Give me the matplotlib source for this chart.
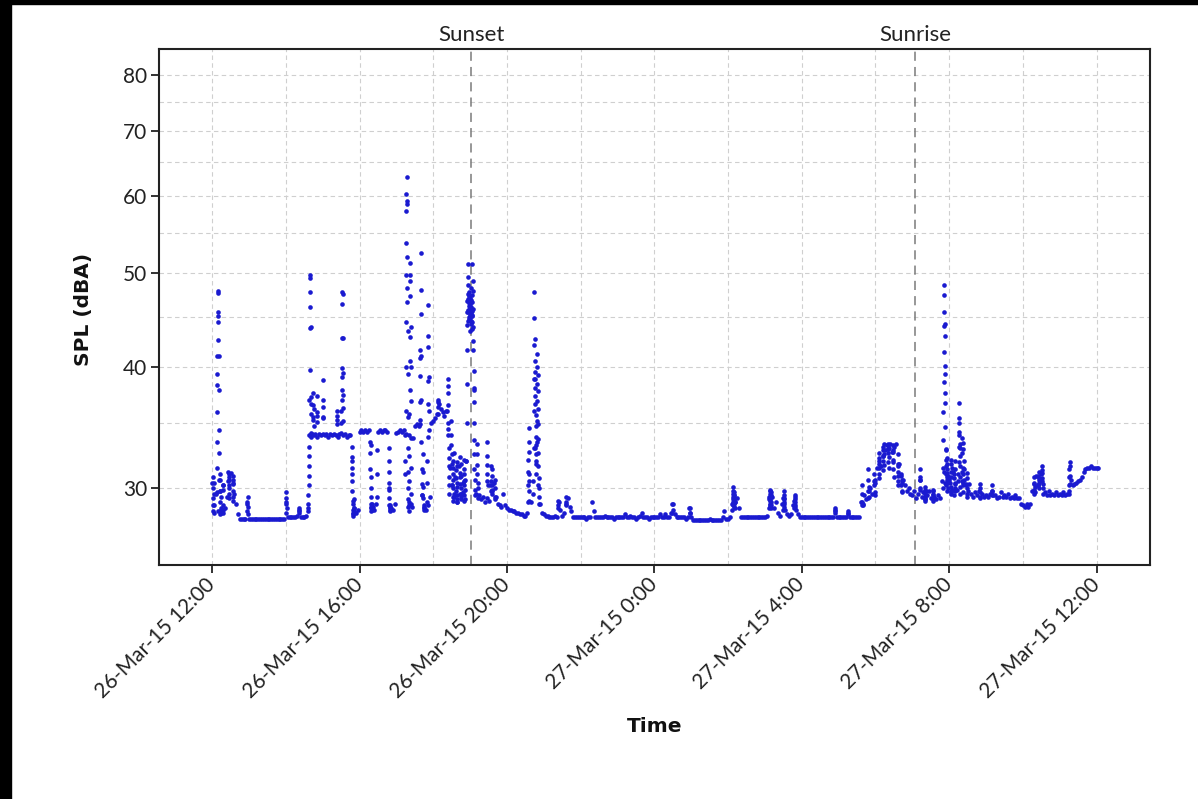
import matplotlib
matplotlib.use("Agg")
import matplotlib.pyplot as plt
import matplotlib.dates as mdates
import pandas as pd
from matplotlib.ticker import FixedLocator, NullFormatter, FuncFormatter
from matplotlib.patches import Rectangle

# ---- SPL readings, 3-minute samples, one list per clock hour (26-27 Mar 2015) ----
spl_12h = [30.4, 28.8, 29.6, 28.4, 29.8, 28.3, 30.2, 28.6, 29.4, 30.6,
           31.1, 30.4, 29.6, 28.9, 28.2, 27.9, 27.9, 27.9, 27.9, 28.9]
spl_13h = [27.9, 27.9, 27.9, 27.9, 27.9, 27.9, 27.9, 27.9, 27.9, 27.9,
           27.9, 27.9, 27.9, 27.9, 27.9, 27.9, 27.9, 27.9, 27.9, 27.9]
spl_14h = [29.0, 28.0, 28.0, 28.0, 28.0, 28.0, 28.1, 28.5, 28.0, 28.0,
           28.0, 28.1, 28.6, 34.0, 34.1, 34.0, 34.1, 33.9, 34.1, 34.0]
spl_15h = [34.1, 34.0, 34.1, 33.9, 34.1, 34.0, 34.1, 34.0, 33.9, 34.1,
           34.2, 34.0, 34.1, 33.9, 34.0, 34.0, 32.0, 28.6, 28.3, 28.5]
spl_16h = [34.3, 34.4, 34.3, 34.4, 34.3, 34.4, 33.2, 28.7, 28.5, 28.9,
           34.3, 34.4, 34.3, 34.4, 34.4, 34.3, 30.0, 28.6, 28.5, 28.9]
spl_17h = [34.2, 34.3, 34.4, 34.3, 34.4, 34.1, 28.7, 28.4, 28.9, 33.8,
           34.8, 34.9, 34.8, 34.9, 29.5, 28.6, 28.5, 28.8, 29.4, 35.0]
spl_18h = [35.2, 35.4, 35.8, 36.6, 36.2, 35.9, 35.6, 36.0, 34.5, 31.5,
           30.2, 29.4, 30.8, 29.0, 31.6, 29.6, 30.4, 29.2, 32.0, 45.5]
spl_19h = [46.0, 45.2, 38.0, 29.6, 29.3, 29.5, 29.2, 29.4, 29.0, 29.3,
           29.1, 30.2, 29.8, 30.4, 29.4, 28.9, 28.8, 28.7, 29.6, 28.8]
spl_20h = [28.6, 28.5, 28.5, 28.4, 28.4, 28.3, 28.3, 28.2, 28.2, 28.1,
           28.1, 28.3, 30.5, 29.0, 29.6, 33.0, 32.0, 30.2, 28.9, 28.3]
spl_21h = [28.2, 28.1, 28.1, 28.0, 28.0, 28.0, 28.1, 28.0, 29.0, 28.5,
           28.1, 28.3, 28.9, 29.3, 28.7, 28.4, 28.0, 28.0, 28.0, 28.0]
spl_22h = [28.0, 28.0, 28.0, 27.9, 28.0, 28.0, 29.0, 28.4, 28.0, 28.0,
           28.0, 28.0, 28.0, 28.1, 28.0, 28.0, 28.0, 28.0, 27.9, 28.0]
spl_23h = [28.0, 28.0, 28.0, 28.0, 28.2, 28.0, 28.0, 28.1, 28.0, 28.0,
           27.9, 28.0, 28.1, 28.3, 28.0, 28.0, 28.0, 27.9, 28.0, 28.0]
spl_00h = [28.0, 28.0, 28.0, 28.2, 28.0, 28.0, 28.2, 28.0, 28.0, 28.3,
           28.9, 28.2, 28.0, 28.0, 28.0, 28.0, 28.0, 27.9, 28.0, 28.6]
spl_01h = [28.0, 27.8, 27.8, 27.8, 27.8, 27.8, 27.8, 27.8, 27.8, 27.8,
           27.9, 27.8, 27.8, 27.8, 27.8, 27.8, 27.8, 28.0, 28.4, 27.9]
spl_02h = [27.9, 28.0, 28.9, 29.5, 29.0, 29.3, 28.6, 28.0, 28.0, 28.0,
           28.0, 28.0, 28.0, 28.0, 28.0, 28.0, 28.0, 28.0, 28.0, 28.0]
spl_03h = [28.0, 28.1, 29.2, 28.8, 29.4, 28.6, 29.0, 28.3, 28.1, 28.9,
           29.3, 28.5, 28.2, 28.1, 28.2, 28.8, 29.1, 28.5, 28.2, 28.0]
spl_04h = [28.0, 28.0, 28.0, 28.0, 28.0, 28.0, 28.0, 28.0, 28.0, 28.0,
           28.0, 28.0, 28.0, 28.0, 28.0, 28.0, 28.0, 28.0, 28.5, 28.0]
spl_05h = [28.0, 28.0, 28.0, 28.0, 28.0, 28.3, 28.0, 28.0, 28.0, 28.0,
           28.0, 28.0, 29.0, 28.8, 29.5, 29.2, 29.8, 30.0, 29.6, 30.5]
spl_06h = [30.4, 31.5, 32.0, 31.6, 32.4, 32.8, 33.2, 32.9, 33.3, 32.7,
           33.1, 33.3, 32.5, 31.8, 31.0, 30.6, 30.2, 29.8, 30.0, 29.6]
spl_07h = [29.5, 29.8, 29.3, 29.6, 30.6, 29.4, 29.7, 29.2, 29.5, 29.8,
           29.3, 29.6, 29.4, 29.2, 29.5, 29.3, 30.5, 31.2, 30.4, 30.8]
spl_08h = [30.6, 29.8, 31.2, 30.4, 29.9, 31.0, 33.0, 30.5, 31.4, 30.2,
           29.8, 30.3, 29.6, 29.4, 29.7, 29.5, 29.8, 29.3, 29.6, 29.4]
spl_09h = [29.5, 29.4, 29.6, 29.8, 29.5, 29.5, 29.3, 29.4, 29.7, 29.4,
           29.5, 29.4, 29.6, 29.3, 29.4, 29.3, 29.5, 29.3, 29.3, 28.9]
spl_10h = [28.8, 28.7, 28.9, 28.7, 28.9, 29.8, 30.4, 30.9, 30.2, 30.7,
           31.0, 30.3, 29.7, 29.5, 29.8, 29.5, 29.6, 29.5, 29.7, 29.5]
spl_11h = [29.6, 29.5, 29.7, 29.5, 29.6, 29.8, 30.6, 30.2, 30.3, 30.4,
           30.5, 30.6, 30.8, 31.2, 31.4, 31.5, 31.5, 31.6, 31.5, 31.5]
spl_12h_end = [31.5, 31.5]

# ---- short bursts of 15-second readings (passing events, transitions) ----
burst_start = [
    "26 12:01", "26 12:07", "26 12:12", "26 12:17", "26 12:26", "26 12:33", "26 12:57",
    "26 14:00", "26 14:21", "26 14:36", "26 14:44", "26 14:50", "26 15:00", "26 15:23",
    "26 15:30", "26 15:47", "26 16:17", "26 16:28", "26 16:47", "26 17:14", "26 17:20",
    "26 17:38", "26 17:43", "26 17:50", "26 18:07", "26 18:23", "26 18:29", "26 18:31",
    "26 18:37", "26 18:43", "26 18:49", "26 18:54", "26 18:58", "26 19:02", "26 19:06",
    "26 19:11", "26 19:27", "26 19:34", "26 19:40", "26 20:34", "26 20:43", "26 20:48",
    "26 21:23", "26 21:36",
    "27 00:29", "27 00:58", "27 02:07", "27 03:07", "27 03:30", "27 03:48", "27 04:54",
    "27 05:15", "27 05:38", "27 05:48", "27 05:58", "27 06:05", "27 06:12", "27 06:20",
    "27 06:28", "27 06:36", "27 06:42", "27 07:12", "27 07:20", "27 07:33", "27 07:50",
    "27 07:55", "27 08:02", "27 08:08", "27 08:15", "27 08:21", "27 08:28", "27 08:50",
    "27 09:09", "27 10:18", "27 10:25", "27 10:31", "27 11:15",
]
burst_spl = [
    [30.8, 29.3, 28.4, 30.0, 28.8, 29.6, 28.3, 30.4],
    [29.7, 31.5, 33.5, 35.9, 38.3, 39.3, 41.0, 42.6, 44.5, 47.9, 47.6, 45.5, 45.1,
     41.0, 37.9, 34.4, 32.6, 30.6],
    [29.8, 28.4, 30.6, 29.0, 28.2, 31.0, 29.4, 28.6],
    [28.5, 29.9, 28.3, 30.2, 28.8],
    [30.5, 31.2, 30.0, 29.3, 30.8, 31.0, 29.6, 30.2],
    [30.9, 29.8, 30.3, 29.1, 30.6, 29.4],
    [28.4, 29.0, 29.4, 28.7, 28.2],
    [28.3, 28.9, 29.7, 29.3, 28.6],
    [28.3, 28.6, 28.4],
    [28.4, 28.9, 29.5, 30.2, 30.9, 31.6, 32.4, 33.1, 34.0, 37.0, 39.7, 43.9, 46.1,
     47.8, 49.7, 49.4, 44.0, 37.2, 36.6, 35.8, 34.2, 33.9],
    [36.5, 35.5, 37.6, 35.3, 34.8, 36.2],
    [35.6, 37.3, 35.9, 35.1],
    [35.4, 36.4, 38.8, 37.0, 35.5],
    [35.3, 36.0, 35.6, 34.9],
    [35.0, 36.0, 37.0, 37.9, 39.0, 39.9, 42.8, 46.4, 47.8, 47.5, 42.8, 39.4, 37.4,
     36.3, 35.2],
    [33.1, 32.3, 31.5, 31.0, 30.5, 29.8, 29.1, 28.5, 28.1, 28.3, 28.9, 28.2, 28.6,
     28.4, 29.2, 28.3],
    [33.5, 32.6, 31.4, 30.8, 30.0, 29.4, 28.9, 28.6, 28.4, 28.7, 28.5, 28.9, 28.6],
    [29.4, 31.0, 32.8],
    [33.0, 32.0, 31.2, 30.4, 29.9, 29.3, 28.8, 28.6, 28.5, 28.7, 28.4, 28.8],
    [34.0, 32.0, 31.0, 36.0, 40.0, 44.5, 49.7, 53.7, 57.9, 60.2, 62.8, 59.3, 58.9,
     51.9, 48.2, 46.6, 43.5, 39.3, 35.5, 33.0, 31.2, 30.0, 29.2, 28.8],
    [29.0, 30.5, 32.4, 34.0, 35.8, 37.9, 40.6, 42.9, 47.3, 49.0, 51.2, 49.7, 44.0,
     40.0, 36.9, 33.8, 31.5, 29.6, 28.7],
    [35.3, 36.8, 39.1, 40.8, 41.6, 45.3, 52.4, 48.0, 41.0, 37.0, 33.5, 31.4, 30.3, 29.5],
    [32.5, 31.2, 30.1, 29.3, 28.8, 28.5, 28.7],
    [29.0, 30.4, 32.0, 33.9, 36.6, 38.7, 41.9, 46.3, 43.0, 39.0, 36.0, 34.4],
    [36.8, 37.0, 36.4, 35.8],
    [36.0, 37.6, 38.9, 38.2, 36.5, 35.0, 34.0, 33.0, 32.2, 31.6, 30.8, 30.2, 29.6],
    [35.2, 34.0, 33.2, 32.5, 31.8],
    [30.2, 31.5, 29.4, 32.0, 30.6, 29.1, 31.0, 30.0, 32.6, 29.6],
    [31.3, 29.8, 30.7, 29.2, 31.9, 30.4, 29.0, 31.6, 30.1, 29.5],
    [30.8, 32.3, 29.6, 31.1, 30.3, 29.2, 31.8, 30.0, 29.4, 30.9],
    [29.7, 31.4, 30.5, 29.1, 32.1, 30.2, 29.5, 31.0, 29.9, 30.6],
    [32.0, 35.0, 38.4, 41.6, 44.2, 45.5, 46.8, 47.5, 48.6, 51.0, 49.5, 47.0, 45.8,
     44.6, 46.2, 47.3],
    [45.0, 46.5, 44.8, 47.8, 46.0, 45.2, 43.5, 44.9, 46.4, 45.6, 47.1, 44.3, 46.9,
     45.3, 48.2, 44.6],
    [46.1, 44.5, 45.7, 47.4, 43.8, 46.6, 45.1, 51.0, 49.0, 47.9, 45.9, 44.0, 42.5,
     41.6, 39.6, 37.9],
    [36.8, 35.0, 33.6, 32.5, 31.4, 30.6, 29.9, 29.5],
    [33.3, 32.5, 31.7, 31.0, 30.4, 30.0],
    [30.5, 31.7, 33.5, 32.4, 31.0, 30.2],
    [30.5, 31.6, 29.8, 31.4, 30.2, 29.6, 30.9, 29.9],
    [30.0, 29.4, 30.6, 29.2],
    [29.0, 30.2, 31.2, 32.1, 33.5, 34.6, 32.7, 31.0, 29.8, 29.1],
    [30.5, 33.0, 36.0, 38.9, 42.1, 44.9, 47.8, 42.7, 40.6, 39.5, 38.9, 38.0, 37.3,
     36.6, 35.7, 34.8, 33.9, 33.2, 32.5, 31.8],
    [31.0, 33.5, 35.2, 36.9, 38.4, 40.0, 41.2, 39.2, 37.8, 36.2, 34.9, 33.7, 32.6,
     31.6, 30.7, 30.0, 29.4, 28.9],
    [28.6, 29.1, 28.8],
    [28.8, 29.4, 29.0],
    [28.3, 28.9, 28.5],
    [28.3, 28.6, 28.3],
    [28.5, 29.2, 29.8, 30.1, 29.6, 29.0, 29.4, 28.8, 29.7, 29.1, 28.7, 29.5, 28.9,
     29.3, 28.6, 29.0],
    [28.6, 29.4, 29.9, 29.2, 28.9, 29.6, 28.7, 29.8, 29.1, 28.6, 29.5, 29.0, 29.7, 28.8],
    [28.5, 29.2, 29.8, 29.0, 28.7, 29.5, 28.9, 29.3],
    [28.6, 29.5, 29.0, 29.4, 28.8, 29.2, 28.7],
    [28.3, 28.6, 28.4],
    [28.2, 28.4],
    [28.8, 29.6, 29.0, 30.2, 28.9],
    [29.3, 30.6, 31.4, 29.8, 30.1, 29.4],
    [30.2, 31.0, 29.7, 30.6, 29.5],
    [31.0, 32.2, 31.5, 30.7, 32.6, 31.8],
    [32.4, 33.1, 32.0, 31.3, 32.8, 33.3, 32.5, 31.7],
    [33.2, 32.6, 31.9, 33.3, 32.9, 32.3, 31.5, 33.0],
    [32.7, 33.2, 32.1, 31.4, 32.8, 31.9, 30.8],
    [31.6, 30.9, 31.8, 30.5, 31.2, 30.2],
    [30.9, 30.2, 30.6, 29.8, 30.4, 29.7],
    [29.9, 30.6, 31.4, 30.8, 30.0],
    [29.2, 29.9, 29.4, 30.1, 29.6, 29.1, 29.8],
    [29.5, 29.1, 29.8, 29.3, 29.9, 29.2],
    [30.0, 31.5, 33.6, 35.9, 38.6, 41.4, 44.1, 47.4, 48.6, 45.5, 44.3, 43.0, 40.1,
     39.3, 37.6, 36.7, 34.7, 32.9, 32.1, 31.0],
    [30.2, 31.6, 32.8, 31.4, 30.6, 32.2, 31.1, 30.4, 29.8, 31.8, 30.9, 30.0],
    [30.4, 31.8, 29.7, 31.2, 30.1, 32.1, 29.6, 30.8, 31.5, 29.9],
    [31.0, 29.5, 30.7, 32.0, 30.3, 29.8, 31.4, 30.0],
    [30.5, 31.9, 33.1, 34.3, 35.0, 36.7, 35.4, 34.0, 33.3, 32.4, 31.6, 30.8, 30.1, 29.6],
    [31.2, 33.8, 32.6, 31.0, 30.2, 32.9, 31.5, 30.4, 29.7, 33.4, 32.0, 30.6],
    [30.3, 29.6, 31.1, 30.0, 29.4, 30.7],
    [29.4, 30.0, 30.3, 29.7],
    [29.5, 30.2, 29.8],
    [29.6, 30.3, 29.9, 30.8, 30.1, 29.7],
    [30.2, 30.9, 30.4, 31.2, 30.6, 30.0],
    [30.5, 31.1, 31.6, 31.3, 30.7, 30.0, 29.6],
    [29.6, 30.2, 30.8, 31.4, 31.9, 31.6, 30.9, 30.3],
]

sunset_time = "2015-03-26 19:02"
sunrise_time = "2015-03-27 07:05"

y_ticks = [30, 40, 50, 60, 70, 80]
y_minor = [35, 45, 55, 65, 75]

# ---- assemble the time series ----
hourly = [spl_12h, spl_13h, spl_14h, spl_15h, spl_16h, spl_17h, spl_18h, spl_19h,
          spl_20h, spl_21h, spl_22h, spl_23h, spl_00h, spl_01h, spl_02h, spl_03h,
          spl_04h, spl_05h, spl_06h, spl_07h, spl_08h, spl_09h, spl_10h, spl_11h,
          spl_12h_end]
base_values = [v for block in hourly for v in block]
base_times = pd.date_range("2015-03-26 12:00", periods=len(base_values), freq="3min")

times = list(base_times)
values = list(base_values)
for start, readings in zip(burst_start, burst_spl):
    t = pd.date_range(f"2015-03-{start}", periods=len(readings), freq="15s")
    times.extend(t)
    values.extend(readings)

# ---- figure ----
fig = plt.figure(figsize=(11.98, 7.99), dpi=100)
ax = fig.add_axes([0.1331, 0.2929, 0.8268, 0.6458])

ax.scatter(times, values, s=11, color="#1a1ad0", linewidths=0, zorder=3)

ax.set_yscale("log")
ax.set_ylim(25, 85)
ax.yaxis.set_major_locator(FixedLocator(y_ticks))
ax.yaxis.set_major_formatter(FuncFormatter(lambda v, p: f"{v:g}"))
ax.yaxis.set_minor_locator(FixedLocator(y_minor))
ax.yaxis.set_minor_formatter(NullFormatter())

ax.set_xlim(pd.Timestamp("2015-03-26 10:34"), pd.Timestamp("2015-03-27 13:27"))
ax.xaxis.set_major_locator(mdates.HourLocator(byhour=[0, 4, 8, 12, 16, 20]))
ax.xaxis.set_minor_locator(mdates.HourLocator(byhour=[2, 6, 10, 14, 18, 22]))


def fmt_time(x, pos):
    d = mdates.num2date(x)
    return f"{d.day}-{d:%b}-{d:%y} {d.hour}:{d:%M}"


ax.xaxis.set_major_formatter(FuncFormatter(fmt_time))

ax.set_axisbelow(True)
ax.grid(True, which="both", color="#cfcfcf", linestyle=(0, (4, 3)), linewidth=0.8)

for sp in ax.spines.values():
    sp.set_linewidth(1.5)
    sp.set_color("#222222")

ax.tick_params(axis="both", which="major", direction="out", length=6, width=1.3,
               color="#222222", labelcolor="#222222", labelsize=15)
ax.tick_params(axis="both", which="minor", length=0)
ax.tick_params(axis="y", which="major", pad=3)
ax.tick_params(axis="x", which="major", pad=6)
for lab in ax.get_yticklabels():
    lab.set_fontfamily("Lato")
for lab in ax.get_xticklabels():
    lab.set_fontfamily("Lato")
    lab.set_rotation(45)
    lab.set_ha("right")
    lab.set_va("center")
    lab.set_rotation_mode("anchor")

# sunset / sunrise markers
for t_str, name in [(sunset_time, "Sunset"), (sunrise_time, "Sunrise")]:
    t = pd.Timestamp(t_str)
    ax.axvline(t, color="#7a7a7a", linestyle=(0, (6, 4)), linewidth=1.1, zorder=2)
    ax.annotate(name, xy=(t, 1.0), xycoords=("data", "axes fraction"),
                xytext=(0, 3), textcoords="offset points", ha="center", va="bottom",
                fontsize=16, family="Lato", color="#222222")

fig.text(83 / 1198, 1 - 309 / 799, "SPL (dBA)", rotation=90, ha="center", va="center",
         fontsize=14.5, fontweight="bold", family="DejaVu Sans", color="#111111")
fig.text(655 / 1198, 1 - 727 / 799, "Time", ha="center", va="center",
         fontsize=14.5, fontweight="bold", family="DejaVu Sans", color="#111111")

# dark frame strips along the left and top edges
fig.add_artist(Rectangle((0, 0), 11 / 1198, 1, transform=fig.transFigure,
                         color="black", zorder=10))
fig.add_artist(Rectangle((0, 1 - 4 / 799), 1, 4 / 799, transform=fig.transFigure,
                         color="black", zorder=10))

fig.savefig("out.png", dpi=100, facecolor="white")
